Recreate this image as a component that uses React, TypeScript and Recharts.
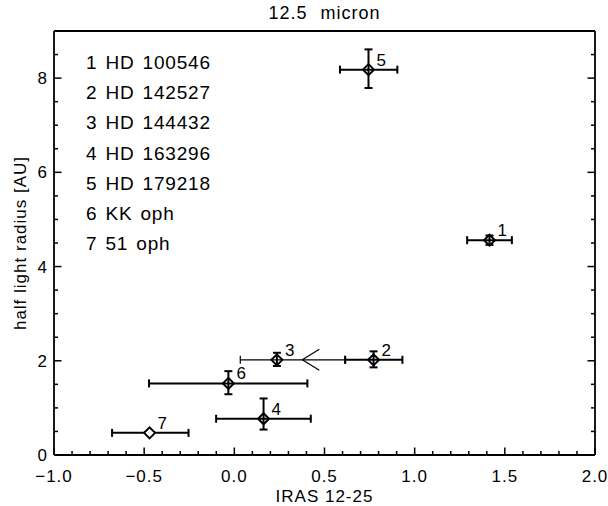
import { ScatterChart, Scatter, XAxis, YAxis, ErrorBar, Label } from 'recharts'

// IRAS 12-25 colour vs. half light radius at 12.5 micron
const ids = ['1', '2', '3', '4', '5', '6', '7']
const names = ['HD 100546', 'HD 142527', 'HD 144432', 'HD 163296', 'HD 179218', 'KK oph', '51 oph']
const colour = [1.415, 0.772, 0.236, 0.162, 0.744, -0.033, -0.47]
const radius = [4.56, 2.02, 2.02, 0.77, 8.18, 1.52, 0.47]
const colourLo = [0.124, 0.157, 0.203, 0.263, 0.158, 0.44, 0.208]
const colourHi = [0.124, 0.16, 0.377, 0.262, 0.16, 0.438, 0.216]
const radiusLo = [0.1, 0.16, 0.13, 0.23, 0.39, 0.23, 0]
const radiusHi = [0.1, 0.18, 0.15, 0.43, 0.43, 0.26, 0]

// limit marker drawn on the HD 144432 colour bar
const limitX = [0.377]
const limitY = [2.02]

const xMajor = [-1, -0.5, 0, 0.5, 1, 1.5, 2]
const xMinor = [-1, -0.9, -0.8, -0.7, -0.6, -0.5, -0.4, -0.3, -0.2, -0.1, 0, 0.1, 0.2, 0.3, 0.4, 0.5, 0.6, 0.7, 0.8, 0.9, 1, 1.1, 1.2, 1.3, 1.4, 1.5, 1.6, 1.7, 1.8, 1.9, 2]
const yMajor = [0, 2, 4, 6, 8]
const yMinor = [0, 0.5, 1, 1.5, 2, 2.5, 3, 3.5, 4, 4.5, 5, 5.5, 6, 6.5, 7, 7.5, 8, 8.5, 9]

const FONT = '"Liberation Sans", Arial, Helvetica, sans-serif'

const points = ids.map((id, i) => ({
  id,
  x: colour[i],
  y: radius[i],
  ex: [colourLo[i], colourHi[i]],
  ey: [radiusLo[i], radiusHi[i]],
}))
const mainPoints = points.filter((p) => p.id !== '3' && p.id !== '7')
const thinPoints = points.filter((p) => p.id === '3')
const openPoints = points.filter((p) => p.id === '7')
const limits = limitX.map((x, i) => ({ x, y: limitY[i] }))

const isMajor = (v: number, majors: number[]) => majors.some((m) => Math.abs(m - v) < 1e-6)

function AxisTick(props: any) {
  const { x, y, payload, side, majors, labels } = props
  const v = payload.value
  const big = isMajor(v, majors)
  const len = big ? 7.5 : 4
  let line = null
  if (side === 'bottom') line = <line x1={x} y1={y} x2={x} y2={y - len} />
  if (side === 'top') line = <line x1={x} y1={y} x2={x} y2={y + len} />
  if (side === 'left') line = <line x1={x} y1={y} x2={x + len} y2={y} />
  if (side === 'right') line = <line x1={x} y1={y} x2={x - len} y2={y} />
  let text = null
  if (labels && big && side === 'bottom') {
    text = (
      <text x={x} y={y + 27} textAnchor="middle" fontSize={17} letterSpacing={1} fill="#000" stroke="none" fontFamily={FONT}>
        {v.toFixed(1).replace('-', '\u2212')}
      </text>
    )
  }
  if (labels && big && side === 'left') {
    text = (
      <text x={x - 7} y={y + 6} textAnchor="end" fontSize={17} fill="#000" stroke="none" fontFamily={FONT}>
        {String(v)}
      </text>
    )
  }
  return (
    <g stroke="#000" strokeWidth={1.5}>
      {line}
      {text}
    </g>
  )
}

function Diamond(props: any) {
  const { cx, cy, payload, fill } = props
  const r = 5.5
  return (
    <g>
      <polygon
        points={`${cx},${cy - r} ${cx + r},${cy} ${cx},${cy + r} ${cx - r},${cy}`}
        fill={fill}
        stroke="#000"
        strokeWidth={2}
      />
      <text x={cx + 8} y={cy - 4} fontSize={17} fill="#000" fontFamily={FONT}>
        {payload.id}
      </text>
    </g>
  )
}

function LimitArrow(props: any) {
  const { cx, cy } = props
  return (
    <g stroke="#000" strokeWidth={1.2} fill="none">
      <line x1={cx} y1={cy} x2={cx + 17} y2={cy - 10.5} />
      <line x1={cx} y1={cy} x2={cx + 17} y2={cy + 10.5} />
    </g>
  )
}

const axisLine = { stroke: '#000', strokeWidth: 1.8 }

export default function App() {
  return (
    <div style={{ position: 'absolute', left: 0, top: 0, width: 608, height: 506, background: '#fff' }}>
      <ScatterChart width={608} height={506} margin={{ top: 30, right: 12, bottom: 50, left: 53 }}>
        <XAxis
          dataKey="x"
          type="number"
          domain={[-1, 2]}
          ticks={xMinor}
          interval={0}
          height={1}
          tickSize={0}
          tickMargin={0}
          tickLine={false}
          axisLine={axisLine}
          allowDataOverflow
          tick={(p: any) => <AxisTick {...p} side="bottom" majors={xMajor} labels />}
        >
          <Label
            content={(p: any) => {
              const vb = p.viewBox
              return (
                <text x={vb.x + vb.width / 2} y={vb.y + 47} textAnchor="middle" fontSize={17} letterSpacing={1} fill="#000" fontFamily={FONT}>
                  IRAS 12-25
                </text>
              )
            }}
          />
        </XAxis>
        <XAxis
          xAxisId="top"
          orientation="top"
          type="number"
          domain={[-1, 2]}
          ticks={xMinor}
          interval={0}
          height={1}
          tickSize={0}
          tickMargin={0}
          tickLine={false}
          axisLine={axisLine}
          allowDataOverflow
          tick={(p: any) => <AxisTick {...p} side="top" majors={xMajor} />}
        >
          <Label
            content={(p: any) => {
              const vb = p.viewBox
              return (
                <text x={vb.x + vb.width / 2} y={vb.y + vb.height - 12} textAnchor="middle" fontSize={18} letterSpacing={1} wordSpacing={7} fill="#000" fontFamily={FONT}>
                  12.5 micron
                </text>
              )
            }}
          />
        </XAxis>
        <YAxis
          dataKey="y"
          type="number"
          domain={[0, 9]}
          ticks={yMinor}
          interval={0}
          width={1}
          tickSize={0}
          tickMargin={0}
          tickLine={false}
          axisLine={axisLine}
          allowDataOverflow
          tick={(p: any) => <AxisTick {...p} side="left" majors={yMajor} labels />}
        >
          <Label
            content={(p: any) => {
              const vb = p.viewBox
              const cy = vb.y + vb.height / 2
              return (
                <text x={0} y={0} transform={`translate(26, ${cy}) rotate(-90)`} textAnchor="middle" fontSize={17} letterSpacing={1} fill="#000" fontFamily={FONT}>
                  half light radius [AU]
                </text>
              )
            }}
          />
        </YAxis>
        <YAxis
          yAxisId="right"
          orientation="right"
          type="number"
          domain={[0, 9]}
          ticks={yMinor}
          interval={0}
          width={1}
          tickSize={0}
          tickMargin={0}
          tickLine={false}
          axisLine={axisLine}
          allowDataOverflow
          tick={(p: any) => <AxisTick {...p} side="right" majors={yMajor} />}
        />
        <Scatter data={thinPoints} isAnimationActive={false} shape={(p: any) => <Diamond {...p} fill="none" />}>
          <ErrorBar dataKey="ex" direction="x" width={4} stroke="#000" strokeWidth={1.2} />
          <ErrorBar dataKey="ey" direction="y" width={4} stroke="#000" strokeWidth={2} />
        </Scatter>
        <Scatter data={limits} isAnimationActive={false} shape={(p: any) => <LimitArrow {...p} />} />
        <Scatter data={mainPoints} isAnimationActive={false} shape={(p: any) => <Diamond {...p} fill="none" />}>
          <ErrorBar dataKey="ex" direction="x" width={4} stroke="#000" strokeWidth={2} />
          <ErrorBar dataKey="ey" direction="y" width={4} stroke="#000" strokeWidth={2} />
        </Scatter>
        <Scatter data={openPoints} isAnimationActive={false} shape={(p: any) => <Diamond {...p} fill="#fff" />}>
          <ErrorBar dataKey="ex" direction="x" width={4} stroke="#000" strokeWidth={2} />
        </Scatter>
      </ScatterChart>
      <div
        style={{
          position: 'absolute',
          left: 86,
          top: 48,
          fontFamily: FONT,
          fontSize: 19,
          lineHeight: '30.2px',
          letterSpacing: 0.8,
          wordSpacing: 2,
          color: '#000',
          whiteSpace: 'pre',
        }}
      >
        {ids.map((id, i) => (
          <div key={id}>{`${id} ${names[i]}`}</div>
        ))}
      </div>
    </div>
  )
}
